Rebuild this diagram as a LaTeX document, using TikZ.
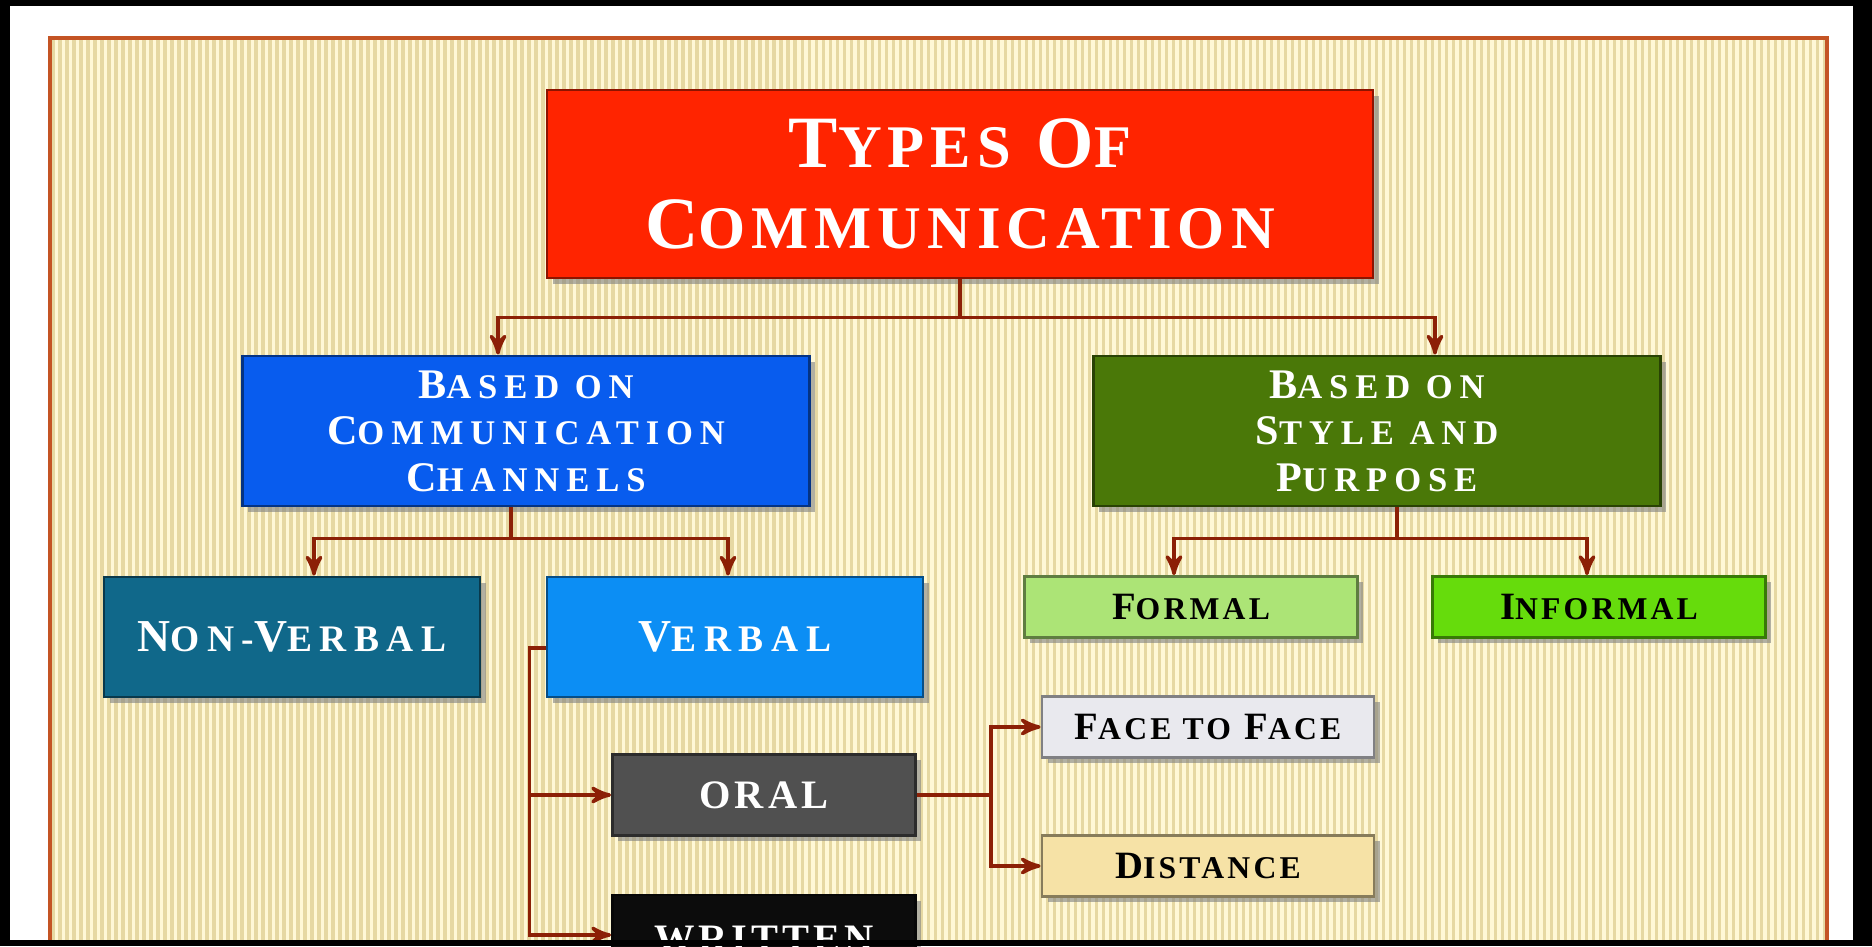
\documentclass[tikz,border=0pt]{standalone}
\usepackage{graphicx}
\usepackage{fontspec}
\setmainfont{Liberation Serif}
\newfontfamily\titlefont[LetterSpace=10]{Liberation Serif}
\newfontfamily\headfont[LetterSpace=20]{Liberation Serif}
\newfontfamily\leaffont[LetterSpace=10]{Liberation Serif}
\usetikzlibrary{arrows,shadows}

\definecolor{titlered}{RGB}{255,36,0}
\definecolor{chanblue}{RGB}{8,92,238}
\definecolor{styleg}{RGB}{74,120,8}
\definecolor{nvteal}{RGB}{16,104,138}
\definecolor{vblue}{RGB}{12,142,244}
\definecolor{formalg}{RGB}{172,228,118}
\definecolor{informalg}{RGB}{102,220,12}
\definecolor{facegray}{RGB}{233,233,238}
\definecolor{distsand}{RGB}{246,226,166}
\definecolor{oralgray}{RGB}{80,80,80}
\definecolor{writblack}{RGB}{12,12,12}
\definecolor{linkred}{RGB}{140,32,6}
\definecolor{framebrown}{RGB}{196,84,36}
\definecolor{paper}{RGB}{255,248,214}
\definecolor{stripecol}{RGB}{230,216,162}

% first letter full size, the rest as small capitals
\newcommand{\capword}[2]{#1\scalebox{.82}{#2}}

\begin{document}
\begin{tikzpicture}[>=stealth',node distance=2cm,
    box/.style={rectangle,fill=#1,draw=#1!55!black,line width=.8pt,inner sep=0pt,align=center,
      drop shadow={shadow xshift=1.6pt,shadow yshift=-1.6pt,opacity=.6}},
    link/.style={->,draw=linkred,line width=1pt}]

  % page and striped paper
  \useasboundingbox (0,0) rectangle (18.72,-9.46);
  \fill[black] (0,0) rectangle (18.72,-9.46);
  \fill[white] (0.10,-0.06) rectangle (18.53,-9.40);
  \fill[paper] (0.50,-0.38) rectangle (18.27,-9.40);
  \foreach \x in {0.53,0.60,...,18.25}
    \draw[stripecol,line width=.9pt] (\x,-0.40) -- (\x,-9.40);
  \draw[framebrown,line width=1pt] (0.50,-9.40) -- (0.50,-0.38) -- (18.27,-0.38) -- (18.27,-9.40);

  \node[box=titlered,minimum width=8.26cm,minimum height=1.88cm,text=white,
    font=\titlefont\bfseries\fontsize{21}{23}\selectfont] (title) at (9.60,-1.84)
    {\capword{T}{YPES} \capword{O}{F}\\\capword{C}{OMMUNICATION}};

  \node[box=chanblue,minimum width=5.67cm,minimum height=1.50cm,text=white,
    font=\headfont\bfseries\fontsize{12}{13.2}\selectfont] (channels) at (5.26,-4.31)
    {\capword{B}{ASED ON}\\\capword{C}{OMMUNICATION}\\\capword{C}{HANNELS}};
  \node[box=styleg,minimum width=5.67cm,minimum height=1.50cm,text=white,
    font=\headfont\bfseries\fontsize{12}{13.2}\selectfont,node distance=8.51cm] (purpose) [right of=channels]
    {\capword{B}{ASED ON}\\\capword{S}{TYLE AND}\\\capword{P}{URPOSE}};

  \node[box=nvteal,minimum width=3.76cm,minimum height=1.20cm,text=white,
    font=\headfont\bfseries\fontsize{13}{15}\selectfont] (nonverbal) at (2.92,-6.37)
    {\capword{N}{ON-}\capword{V}{ERBAL}};
  \node[box=vblue,minimum width=3.76cm,minimum height=1.20cm,text=white,
    font=\headfont\bfseries\fontsize{13}{15}\selectfont,node distance=4.43cm] (verbal) [right of=nonverbal]
    {\capword{V}{ERBAL}};

  \node[box=formalg,minimum width=3.33cm,minimum height=.61cm,
    font=\leaffont\bfseries\fontsize{11}{13}\selectfont] (formal) at (11.91,-6.07)
    {\capword{F}{ORMAL}};
  \node[box=informalg,minimum width=3.33cm,minimum height=.61cm,
    font=\leaffont\bfseries\fontsize{11}{13}\selectfont,node distance=4.08cm] (informal) [right of=formal]
    {\capword{I}{NFORMAL}};

  \node[box=oralgray,minimum width=3.03cm,minimum height=.81cm,text=white,
    font=\leaffont\bfseries\fontsize{11.5}{13}\selectfont] (oral) at (7.64,-7.95) {ORAL};
  \node[box=writblack,minimum width=3.03cm,minimum height=.90cm,text=white,
    font=\leaffont\bfseries\fontsize{11.5}{13}\selectfont,node distance=1.45cm] (written) [below of=oral] {WRITTEN};

  \node[box=facegray,minimum width=3.32cm,minimum height=.61cm,
    font=\leaffont\bfseries\fontsize{11}{13}\selectfont] (face) at (12.08,-7.27)
    {\capword{F}{ACE TO} \capword{F}{ACE}};
  \node[box=distsand,minimum width=3.32cm,minimum height=.61cm,
    font=\leaffont\bfseries\fontsize{11}{13}\selectfont,node distance=1.39cm] (distance) [below of=face]
    {\capword{D}{ISTANCE}};

  \draw[link] (title.south) -- ++(0,-.38) -| ([xshift=-.28cm]channels.north);
  \draw[link] (title.south) -- ++(0,-.38) -| ([xshift=.58cm]purpose.north);

  \draw[link] ([xshift=-.15cm]channels.south) -- ++(0,-.31) -| ([xshift=.22cm]nonverbal.north);
  \draw[link] ([xshift=-.15cm]channels.south) -- ++(0,-.31) -| ([xshift=-.07cm]verbal.north);

  \draw[link] ([xshift=.20cm]purpose.south) -- ++(0,-.31) -| ([xshift=-.17cm]formal.north);
  \draw[link] ([xshift=.20cm]purpose.south) -- ++(0,-.31) -| ([xshift=-.12cm]informal.north);

  \draw[link] ([yshift=-.11cm]verbal.west) -- ++(-.16,0) |- (oral.west);
  \draw[link] ([yshift=-.11cm]verbal.west) -- ++(-.16,0) |- ([yshift=.05cm]written.west);

  \draw[link] (oral.east) -- ++(.74,0) |- (face.west);
  \draw[link] (oral.east) -- ++(.74,0) |- (distance.west);

  % bottom edge of the page over the cut box
  \fill[black] (0,-9.40) rectangle (18.72,-9.46);
\end{tikzpicture}
\end{document}
